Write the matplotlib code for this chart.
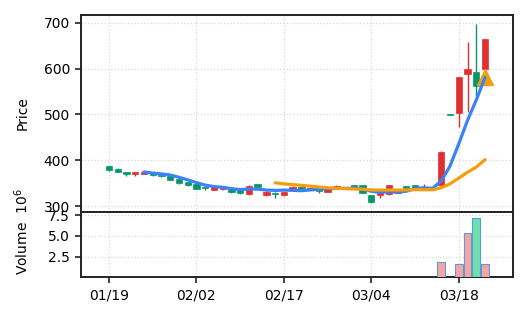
import matplotlib
matplotlib.use("Agg")
import matplotlib.pyplot as plt
import numpy as np
import pandas as pd

# daily OHLC (index 0..43)
opens = [387, 381, 375, 370, 371, 372, 369, 365, 360, 353, 349, 343, 336, 337, 338,
         335, 326, 348, 324, 330, 325, 335, 342, 338, 337, 332, 340, 342, 346, 346,
         324, 324, 326, 330, 344, 346, 337, 340, 346, 501, 504, 588, 593, 600]
highs = [388, 383, 375, 375, 376, 373, 370, 366, 361, 354, 350, 344, 343, 343, 339,
         336, 346, 349, 333, 331, 332, 344, 343, 341, 338, 339, 347, 343, 347, 347,
         325, 335, 347, 338, 345, 347, 349, 341, 420, 501, 582, 658, 697, 665]
lows = [377, 374, 366, 365, 370, 367, 363, 357, 349, 345, 337, 336, 335, 336, 330,
        327, 325, 340, 323, 319, 322, 334, 336, 337, 328, 331, 339, 338, 338, 329,
        307, 319, 325, 329, 336, 338, 336, 338, 345, 499, 472, 505, 540, 599]
closes = [380, 375, 370, 375, 374, 368, 366, 358, 350, 346, 338, 339, 342, 342, 331,
          328, 345, 341, 332, 327, 331, 343, 337, 340, 334, 338, 345, 339, 339, 330,
          310, 334, 346, 337, 337, 339, 343, 339, 419, 499, 581, 598, 561, 664]
# volume in millions (earlier days are too small to see)
volumes = [0.0] * 38 + [1.90, 0.0, 1.66, 5.30, 7.09, 1.66]

tick_idx = [0, 10, 20, 30, 40]
tick_labels = ["01/19", "02/02", "02/17", "03/04", "03/18"]

UP = "#e02f2f"
DOWN = "#05966a"
MA5_COLOR = "#3b82f6"
MA20_COLOR = "#f59e0b"

x = np.arange(len(closes))
close_s = pd.Series(closes, dtype=float)
ma5 = close_s.rolling(5).mean()
ma20 = close_s.rolling(20).mean()

fig = plt.figure(figsize=(5.28, 3.22), dpi=100)
ax = fig.add_axes([0.1534, 0.3416, 0.8182, 0.6124])
axv = fig.add_axes([0.1534, 0.1382, 0.8182, 0.2034], sharex=ax)

for i in x:
    up = closes[i] >= opens[i]
    c = UP if up else DOWN
    ax.vlines(i, lows[i], highs[i], color=c, linewidth=1.0, zorder=2)
    lo = min(opens[i], closes[i])
    h = max(abs(closes[i] - opens[i]), 1.5)
    ax.bar(i, h, bottom=lo, width=0.72, color=c, edgecolor=c, linewidth=0.5, zorder=3)

ax.plot(x, ma5, color=MA5_COLOR, linewidth=2.3, solid_capstyle="round", zorder=5)
ax.plot(x[-1], ma5.iloc[-1], marker="^", markersize=12, color=MA20_COLOR, zorder=4)
ax.plot(x, ma20, color=MA20_COLOR, linewidth=2.3, solid_capstyle="round", zorder=6)

ax.set_xlim(-3.2, 46.2)
ax.set_ylim(287.6, 717)
ax.set_yticks([300, 400, 500, 600, 700])
ax.set_ylabel("Price", fontsize=10)
ax.grid(True, linestyle=":", color="#d8d8d8", linewidth=0.9)
ax.tick_params(axis="x", length=0, labelbottom=False)

vol_colors = ["#f6a5a5" if closes[i] >= opens[i] else "#6ee0b0" for i in x]
axv.bar(x, volumes, width=0.9, color=vol_colors, edgecolor="#5a9bd8", linewidth=0.8, zorder=3)
axv.set_ylim(0, 7.87)
axv.set_yticks([2.5, 5.0, 7.5])
axv.set_xticks(tick_idx)
axv.set_xticklabels(tick_labels)
axv.set_ylabel("Volume  $10^{6}$", fontsize=10)
axv.grid(True, linestyle=":", color="#d8d8d8", linewidth=0.9)

for a in (ax, axv):
    for sp in a.spines.values():
        sp.set_linewidth(1.4)
        sp.set_color("#222222")
    a.tick_params(labelsize=10, width=1.2, length=4.5, color="#222222")
    a.set_axisbelow(True)
ax.tick_params(axis="x", length=0)

ax.yaxis.set_label_coords(-0.12, 0.5)
axv.yaxis.set_label_coords(-0.116, 0.70)

fig.savefig("out.png", dpi=100)
